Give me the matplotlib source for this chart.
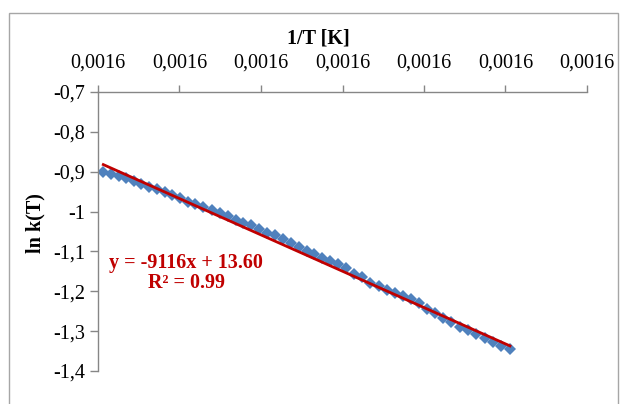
import matplotlib.pyplot as plt
from matplotlib.patches import Rectangle
from matplotlib.ticker import FixedLocator, FuncFormatter

# 1/T values and ln k(T)
inv_T = [0.00158865, 0.00158963, 0.00159054, 0.00159147, 0.00159242, 0.00159331,
         0.00159426, 0.00159520, 0.00159618, 0.00159708, 0.00159806, 0.00159901,
         0.00159994, 0.00160092, 0.00160199, 0.00160297, 0.00160391, 0.00160490,
         0.00160583, 0.00160681, 0.00160779, 0.00160877, 0.00160972, 0.00161074,
         0.00161164, 0.00161263, 0.00161361, 0.00161450, 0.00161548, 0.00161650,
         0.00161745, 0.00161843, 0.00161941, 0.00162039, 0.00162141, 0.00162244,
         0.00162342, 0.00162441, 0.00162539, 0.00162637, 0.00162735, 0.00162833,
         0.00162939, 0.00163037, 0.00163135, 0.00163242, 0.00163340, 0.00163438,
         0.00163545, 0.00163643, 0.00163749, 0.00163855]
ln_k = [-0.9008, -0.9058, -0.9108, -0.9158, -0.9243, -0.9300, -0.9383, -0.9443,
        -0.9508, -0.9583, -0.9668, -0.9750, -0.9808, -0.9893, -0.9968, -1.0033,
        -1.0100, -1.0200, -1.0275, -1.0343, -1.0443, -1.0533, -1.0583, -1.0683,
        -1.0783, -1.0900, -1.0983, -1.1058, -1.1158, -1.1233, -1.1325, -1.1418,
        -1.1558, -1.1643, -1.1793, -1.1858, -1.1958, -1.2043, -1.2108, -1.2193,
        -1.2300, -1.2450, -1.2533, -1.2668, -1.2768, -1.2908, -1.2968, -1.3068,
        -1.3183, -1.3268, -1.3368, -1.3450]

# trendline as given in the chart
slope = -9116
intercept = 13.60
r2 = 0.99

x_ticks = [0.001588, 0.001598, 0.001608, 0.001618, 0.001628, 0.001638, 0.001648]
y_ticks = [-1.4, -1.3, -1.2, -1.1, -1.0, -0.9, -0.8, -0.7]

plt.rcParams['font.family'] = ['Liberation Serif', 'DejaVu Serif']

fig = plt.figure(figsize=(6.21, 4.04), dpi=100)
ax = fig.add_axes([98 / 621, 1 - 371 / 404, 489 / 621, 279 / 404])

# outer chart border
fig.patches.append(Rectangle((9 / 621, -0.05), 609 / 621, 1.05 - 13 / 404,
                             transform=fig.transFigure, fill=False,
                             edgecolor='#a6a6a6', linewidth=1.0))

ax.plot(inv_T, ln_k, linestyle='none', marker='D', markersize=6.2,
        color='#4f81bd', markeredgewidth=0, zorder=2)

x0, x1 = inv_T[0], inv_T[-1]
ax.plot([x0, x1], [slope * x0 + intercept, slope * x1 + intercept],
        color='#c00000', linewidth=2.0, zorder=3)

ax.set_xlim(x_ticks[0], x_ticks[-1])
ax.set_ylim(-1.4, -0.7)
ax.xaxis.set_major_locator(FixedLocator(x_ticks))
ax.yaxis.set_major_locator(FixedLocator(y_ticks))
ax.xaxis.set_major_formatter(FuncFormatter(lambda v, p: f"{v:.4f}".replace('.', ',')))
ax.yaxis.set_major_formatter(FuncFormatter(lambda v, p: f"{round(v, 1):g}".replace('.', ',')))

ax.xaxis.tick_top()
for s in ['right', 'bottom']:
    ax.spines[s].set_visible(False)
for s in ['left', 'top']:
    ax.spines[s].set_color('#868686')
    ax.spines[s].set_linewidth(1.0)
ax.tick_params(axis='x', direction='out', length=5, width=1, color='#868686',
               pad=9, labelsize=14.5)
ax.tick_params(axis='y', direction='out', length=6, width=1, color='#868686',
               pad=3, labelsize=14.5)

fig.text(318 / 621, 1 - 38 / 404, '1/T [K]', ha='center', va='center',
         fontsize=14.5, fontweight='bold')
fig.text(35 / 621, 1 - 223 / 404, 'ln k(T)', ha='center', va='center',
         rotation=90, fontsize=14.5, fontweight='bold')

ax.text(186 / 621, 1 - 273 / 404,
        f"y = {slope}x + {intercept:.2f}\nR² = {r2:.2f}",
        transform=fig.transFigure, ha='center', va='center', fontsize=14.5,
        fontweight='bold', color='#c00000', linespacing=1.0)

fig.savefig('out.png', dpi=100)
